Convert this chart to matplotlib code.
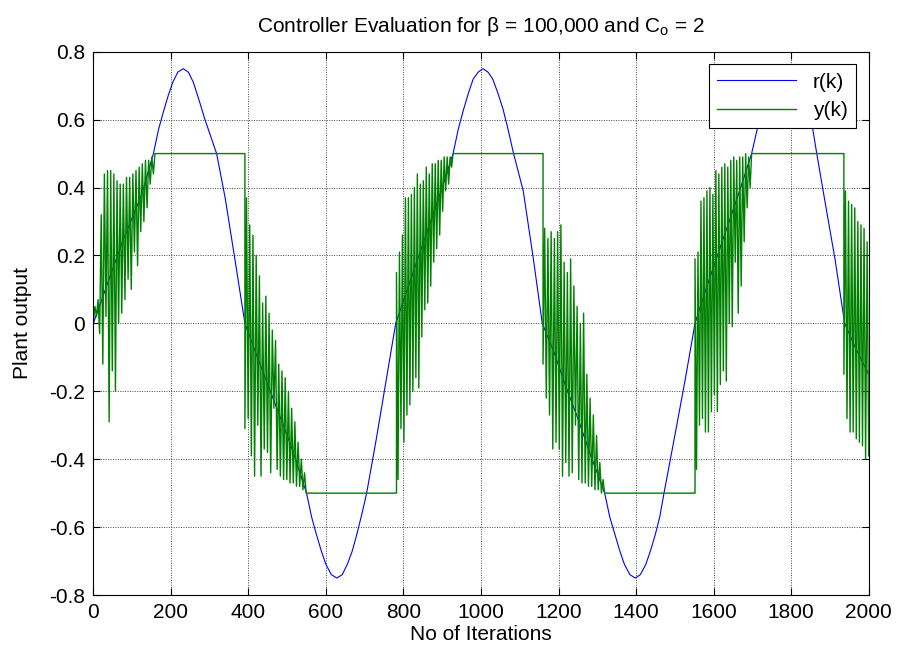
import numpy as np
import matplotlib
matplotlib.use('Agg')
import matplotlib.pyplot as plt

plt.rcParams['font.family'] = ['Liberation Sans', 'DejaVu Sans']
plt.rcParams['mathtext.fontset'] = 'custom'
plt.rcParams['mathtext.rm'] = 'Liberation Sans'
plt.rcParams['mathtext.it'] = 'Liberation Sans:italic'
plt.rcParams['axes.unicode_minus'] = False

# reference signal r(k), read at breakpoints
r_k = [0, 25, 50, 75, 100, 125, 155, 168, 180, 193, 205, 218, 232, 245, 258, 272, 288, 303, 318,
       340, 365, 391, 420, 450, 480, 510,
       550, 563, 575, 588, 600, 614, 628, 642, 655, 668, 680, 693, 705,
       730, 755, 780, 810, 840, 870, 900,
       928, 941, 955, 968, 980, 993, 1005, 1018, 1030, 1043, 1057, 1070, 1084,
       1109, 1135, 1158, 1190, 1220, 1250, 1280,
       1319, 1332, 1345, 1358, 1370, 1384, 1398, 1411, 1425, 1437, 1450, 1461, 1472,
       1500, 1526, 1552, 1580, 1610, 1640, 1670,
       1698, 1712, 1725, 1740, 1755, 1771, 1787, 1803, 1818, 1832, 1845, 1856, 1866,
       1890, 1913, 1938, 1965, 2000]
r_v = [0.0, 0.08, 0.16, 0.24, 0.31, 0.38, 0.5, 0.57, 0.62, 0.67, 0.71, 0.74, 0.75, 0.74, 0.71, 0.66, 0.60, 0.55, 0.5,
       0.37, 0.19, 0.0, -0.09, -0.18, -0.27, -0.36,
       -0.5, -0.57, -0.62, -0.67, -0.71, -0.74, -0.75, -0.74, -0.71, -0.67, -0.62, -0.56, -0.5,
       -0.34, -0.17, 0.0, 0.10, 0.20, 0.30, 0.40,
       0.5, 0.57, 0.63, 0.68, 0.72, 0.74, 0.75, 0.74, 0.72, 0.68, 0.63, 0.57, 0.5,
       0.39, 0.19, 0.0, -0.09, -0.19, -0.28, -0.38,
       -0.5, -0.57, -0.62, -0.67, -0.71, -0.74, -0.75, -0.74, -0.71, -0.67, -0.62, -0.57, -0.5,
       -0.33, -0.17, 0.0, 0.10, 0.20, 0.30, 0.40,
       0.5, 0.57, 0.62, 0.67, 0.71, 0.74, 0.75, 0.74, 0.71, 0.67, 0.62, 0.57, 0.5,
       0.34, 0.19, 0.0, -0.07, -0.15]

# plant output y(k): oscillating stretches, saturated at +/-0.5 in between
seg_start = [0, 391, 782, 1160, 1552, 1936]
seg_end = [159, 549, 928, 1319, 1698, 2000]
hold_level = [0.5, -0.5, 0.5, -0.5, 0.5]

seg1_y = [0.0, 0.05, 0.02, 0.07, -0.03, 0.32, -0.12, 0.44, 0.02, 0.45, -0.29, 0.45, -0.14, 0.44,
          -0.20, 0.42, 0.00, 0.41, 0.03, 0.41, 0.07, 0.43, 0.13, 0.43, 0.10, 0.44, 0.21, 0.45,
          0.17, 0.46, 0.27, 0.47, 0.30, 0.48, 0.34, 0.48, 0.41, 0.49, 0.44, 0.50]
seg2_y = [-0.31, 0.37, -0.28, 0.29, -0.39, 0.26, -0.45, 0.20, -0.30, 0.14, -0.45, 0.06, -0.37,
          0.08, -0.38, 0.03, -0.44, -0.02, -0.25, -0.05, -0.43, -0.12, -0.45, -0.14, -0.46,
          -0.16, -0.46, -0.20, -0.47, -0.25, -0.47, -0.29, -0.48, -0.35, -0.48, -0.40, -0.49,
          -0.44, -0.50]
seg3_y = [0.15, -0.46, 0.21, -0.31, 0.26, -0.35, 0.37, -0.27, 0.37, -0.24, 0.38, -0.20, 0.40,
          -0.16, 0.44, -0.19, 0.41, -0.04, 0.42, 0.04, 0.46, 0.06, 0.44, 0.11, 0.47, 0.18, 0.47,
          0.22, 0.48, 0.26, 0.48, 0.33, 0.49, 0.39, 0.49, 0.41, 0.49, 0.46, 0.50]
seg4_y = [-0.12, 0.28, -0.22, 0.25, -0.27, 0.27, -0.37, 0.25, -0.35, 0.27, -0.37, 0.29, -0.45,
          0.18, -0.41, 0.15, -0.45, 0.19, -0.44, 0.11, -0.30, 0.05, -0.46, 0.00, -0.47, 0.03,
          -0.47, -0.15, -0.48, -0.22, -0.48, -0.27, -0.49, -0.33, -0.49, -0.41, -0.50, -0.46,
          -0.50]
seg5_y = [0.19, -0.43, 0.21, -0.30, 0.36, -0.28, 0.37, -0.32, 0.39, -0.32, 0.40, -0.26, 0.38,
          -0.21, 0.45, -0.26, 0.44, -0.18, 0.46, -0.14, 0.47, -0.17, 0.46, 0.00, 0.48, -0.01,
          0.49, 0.18, 0.48, 0.03, 0.49, 0.11, 0.49, 0.24, 0.50, 0.34, 0.49, 0.40, 0.50]
seg6_y = [-0.15, 0.39, -0.28, 0.36, -0.32, 0.35, -0.32, 0.34, -0.34, 0.30, -0.35, 0.29, -0.36,
          0.28, -0.40, 0.24, -0.39]

segments = [seg1_y, seg2_y, seg3_y, seg4_y, seg5_y, seg6_y]
y_k, y_v = [], []
for i, vals in enumerate(segments):
    y_k.extend(np.linspace(seg_start[i], seg_end[i], len(vals)))
    y_v.extend(vals)
    if i < len(hold_level):
        y_k.append(seg_start[i + 1])
        y_v.append(hold_level[i])

fig = plt.figure(figsize=(8.99, 6.52), dpi=100)
ax = fig.add_axes([0.1038, 0.0874, 0.8625, 0.8333])

ax.plot(r_k, r_v, color='#0000FF', lw=0.8, label='r(k)')
ax.plot(y_k, y_v, color='#008000', lw=1.0, label='y(k)')

ax.set_xlim(0, 2000)
ax.set_ylim(-0.8, 0.8)
ax.set_xticks(np.arange(0, 2001, 200))
yt = np.round(np.arange(-0.8, 0.81, 0.2), 1)
ax.set_yticks(yt)
ax.set_yticklabels(['0' if v == 0 else '%g' % v for v in yt])
ax.tick_params(direction='in', top=True, right=True, labelsize=15, length=5, width=0.8, pad=6)
ax.grid(True, color='#444444', linestyle=(0, (1, 1.5)), linewidth=0.7)
for s in ax.spines.values():
    s.set_linewidth(0.8)

ax.set_xlabel('No of Iterations', fontsize=15, labelpad=2)
ax.set_ylabel('Plant output', fontsize=15, labelpad=12)
ax.set_title(r'Controller Evaluation for β = 100,000 and C$_{\rm o}$ = 2', fontsize=15, pad=14)

leg = ax.legend(loc='upper right', fontsize=15, fancybox=False, framealpha=1,
                edgecolor='black', borderaxespad=0.6, handlelength=3.8,
                borderpad=0.4, labelspacing=0.45)
leg.get_frame().set_linewidth(0.8)

fig.savefig('out.png', dpi=100)
